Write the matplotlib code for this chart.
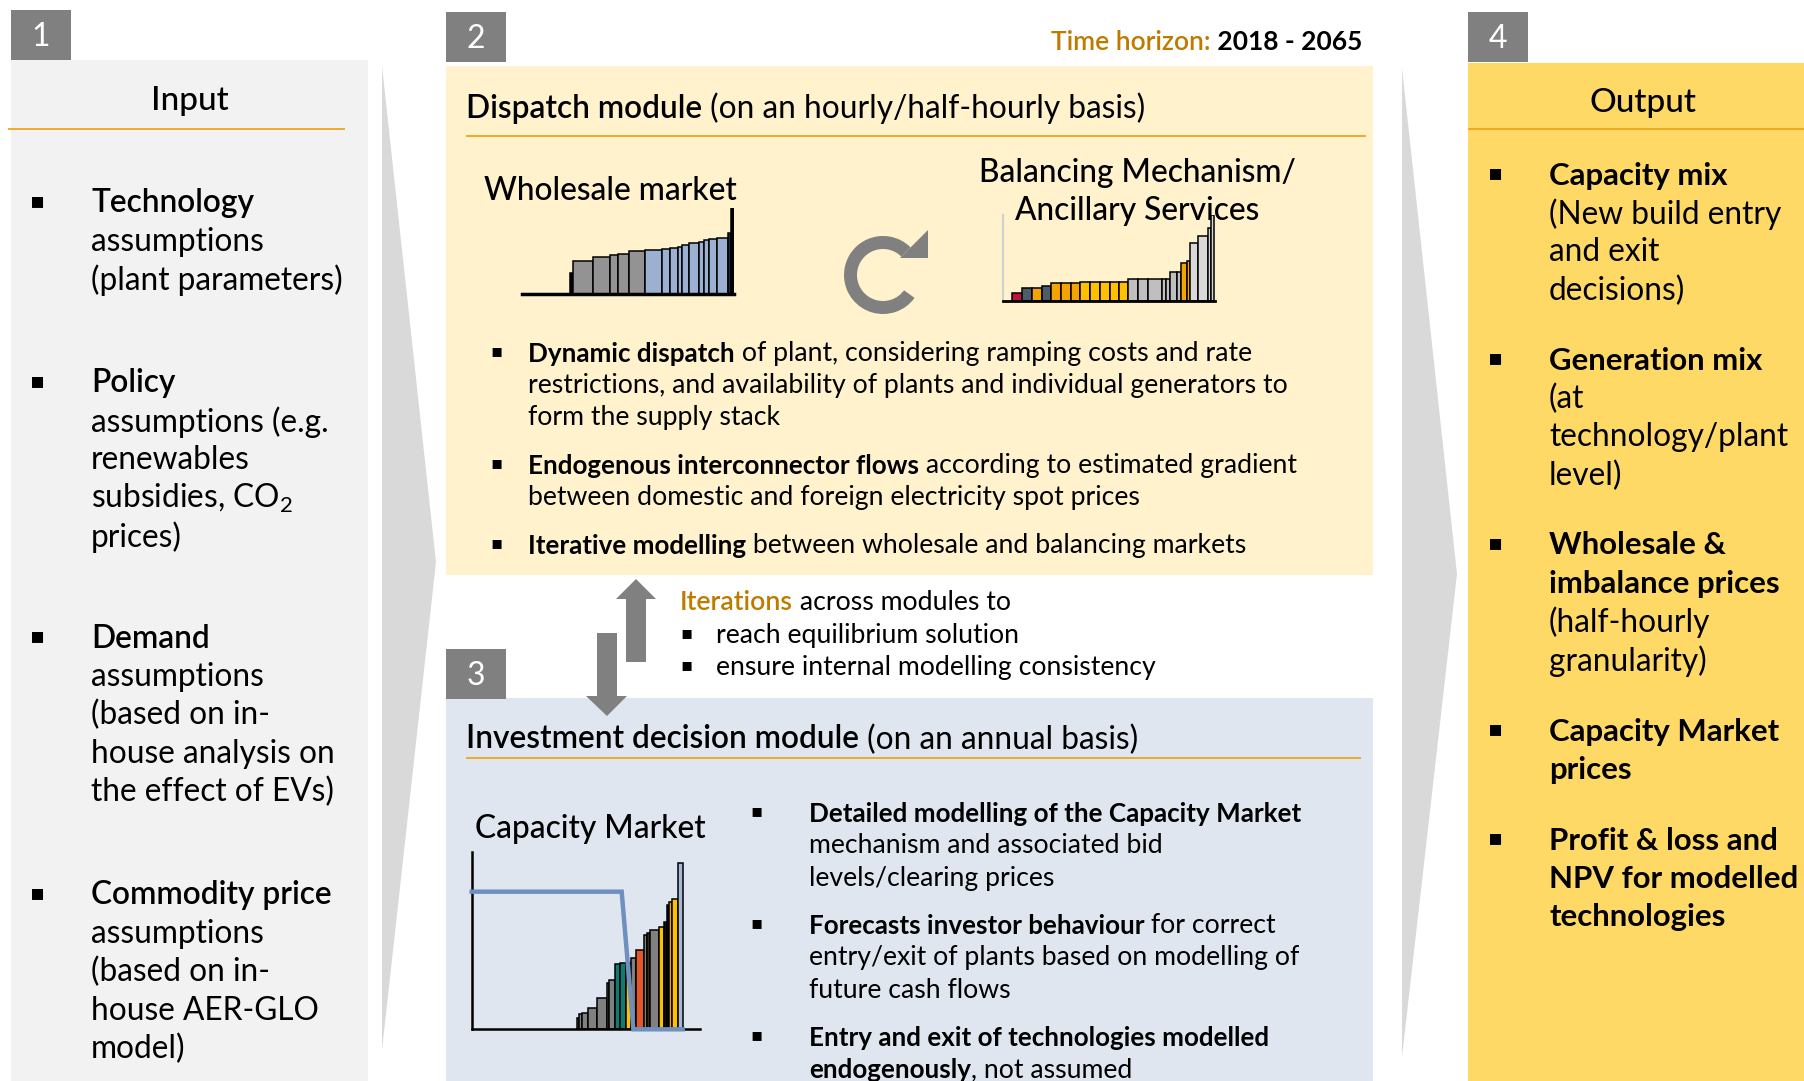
"""
Power market model overview: inputs -> dispatch / investment modules -> outputs.
Drawn on a single pixel-space canvas with three small merit-order inset charts.
"""

import matplotlib
matplotlib.use("Agg")
import matplotlib.pyplot as plt
from matplotlib.patches import Polygon, Rectangle, Wedge

W, H = 1804, 1081

# ---- text content ---------------------------------------------------------
INPUT_ITEMS = [
    ("Technology", ["assumptions", "(plant parameters)"]),
    ("Policy", ["assumptions (e.g.", "renewables", "subsidies, CO$_2$", "prices)"]),
    ("Demand", ["assumptions", "(based on in-", "house analysis on", "the effect of EVs)"]),
    ("Commodity price", ["assumptions", "(based on in-", "house AER-GLO", "model)"]),
]
INPUT_HEAD_Y = [201, 381, 636, 893]

OUTPUT_ITEMS = [
    (["Capacity mix"], ["(New build entry", "and exit", "decisions)"]),
    (["Generation mix"], ["(at", "technology/plant", "level)"]),
    (["Wholesale &", "imbalance prices"], ["(half-hourly", "granularity)"]),
    (["Capacity Market", "prices"], []),
    (["Profit & loss and", "NPV for modelled", "technologies"], []),
]
OUTPUT_HEAD_Y = [173, 358, 543, 729, 838]

DISPATCH_BULLETS = [
    [[("Dynamic dispatch", "bold"), (" of plant, considering ramping costs and rate", "normal")],
     [("restrictions, and availability of plants and individual generators to", "normal")],
     [("form the supply stack", "normal")]],
    [[("Endogenous interconnector flows", "bold"), (" according to estimated gradient", "normal")],
     [("between domestic and foreign electricity spot prices", "normal")]],
    [[("Iterative modelling", "bold"), (" between wholesale and balancing markets", "normal")]],
]
DISPATCH_Y = [351, 463, 543]

INVEST_BULLETS = [
    [[("Detailed modelling of the Capacity Market", "bold")],
     [("mechanism and associated bid", "normal")],
     [("levels/clearing prices", "normal")]],
    [[("Forecasts investor behaviour", "bold"), (" for correct", "normal")],
     [("entry/exit of plants based on modelling of", "normal")],
     [("future cash flows", "normal")]],
    [[("Entry and exit of technologies modelled", "bold")],
     [("endogenously", "bold"), (", not assumed", "normal")]],
]
INVEST_Y = [811, 923, 1035]

ITERATION_POINTS = ["reach equilibrium solution", "ensure internal modelling consistency"]

# ---- mini chart data (merit-order stacks) -----------------------------------
WS_WIDTHS = [10, 60, 50, 23, 35, 47, 50, 25, 23, 12, 22, 31, 14, 14, 26, 33, 7, 10]
WS_PRICES = [63, 100, 113, 117, 120, 130, 132, 135, 138, 143, 147, 154, 156, 162, 165, 170, 183, 258]
WS_COLORS = ["#000000"] + ["#939393"] * 5 + ["#9CB1D2"] * 10 + ["#1E2A38", "#000000"]

BM_WIDTHS = [30, 30, 30, 28, 30, 30, 27, 30, 30, 30, 28, 27, 30, 30, 40, 13, 12, 20, 13, 19, 8, 25, 28, 9, 10]
BM_PRICES = [22, 37, 39, 44, 52, 52, 52, 57, 57, 57, 57, 57, 64, 64, 64, 64, 64, 87, 87, 112, 120, 172, 194, 217, 257]
BM_COLORS = (["#C0143C", "#4E5B6B", "#F5A300", "#4E5B6B"] + ["#F5A300"] * 3 + ["#FFC000"] * 5
             + ["#BFBFBF"] * 7 + ["#F5A300"] * 2 + ["#D9D9D9"] * 4)

CM_WIDTHS = [7, 8, 20, 27, 28, 7, 18, 15, 17, 15, 15, 25, 10, 8, 27, 15, 8, 7, 10, 18, 15]
CM_PRICES = [35, 46, 50, 63, 93, 138, 148, 195, 200, 200, 213, 238, 283, 290, 298, 308, 322, 372, 383, 391, 500]
CM_COLORS = (["#808080"] * 7 + ["#0F7B73", "#0F7B73", "#FFC000", "#808080", "#E0582A", "#808080",
             "#3A2A10", "#808080", "#FFC000", "#111111", "#111111", "#F5A300", "#FFC000", "#A6BAD8"])
CM_DEMAND_X = [35, 485, 520, 668]
CM_DEMAND_Y = [413, 413, 0, 0]

# ---- style ------------------------------------------------------------------
plt.rcParams["font.family"] = ["Lato", "DejaVu Sans"]
plt.rcParams["mathtext.fontset"] = "custom"
plt.rcParams["mathtext.rm"] = "Lato"

GREY_BOX = "#808080"
ORANGE = "#F2A31B"
GOLD = "#BF7A00"
YOFF = 2.5          # matplotlib centres on the full bbox, reference centres a bit lower
SIDE_FS = 22.8      # input / output columns
BODY_FS = 19.2      # bullet text in the module panels
BODY_BOLD_FS = 18.7 # the reference uses a tighter bold face; shrink a touch to match widths
HEAD_FS = 22.8      # module headings and mini-chart titles

fig = plt.figure(figsize=(W / 100, H / 100), dpi=100)
ax = fig.add_axes([0, 0, 1, 1])
ax.set_xlim(0, W)
ax.set_ylim(H, 0)
ax.axis("off")
renderer = fig.canvas.get_renderer()


def txt(x, y, s, size, weight="normal", color="black", ha="left"):
    return ax.text(x, y + YOFF, s, fontsize=size, fontweight=weight, color=color,
                   ha=ha, va="center", zorder=6)


def rect(x0, y0, x1, y1, color, z=1):
    ax.add_patch(Rectangle((x0, y0), x1 - x0, y1 - y0, facecolor=color, edgecolor="none", zorder=z))


def hline(x0, x1, y, color=ORANGE, lw=1.3):
    ax.plot([x0, x1], [y, y], color=color, lw=lw, zorder=3, solid_capstyle="butt")


def num_box(x0, y0, label):
    rect(x0, y0, x0 + 60, y0 + 50, GREY_BOX, z=4)
    ax.text(x0 + 30, y0 + 27, label, color="white", fontsize=23, ha="center", va="center", zorder=5)


def draw_runs(x, y, runs, size, ha="left", bold_size=None):
    """Draw consecutive text runs with mixed weight/colour on one line."""
    items = []
    cx = x
    for part in runs:
        s, weight = part[0], part[1]
        color = part[2] if len(part) > 2 else "black"
        fs = bold_size if (bold_size and weight == "bold") else size
        t = txt(cx, y, s, fs, weight, color)
        cx += t.get_window_extent(renderer).width
        items.append(t)
    if ha == "right":
        shift = cx - x
        for t in items:
            t.set_x(t.get_position()[0] - shift)
    return cx


def bullet(x, y, size):
    ax.text(x, y, "\u25aa", fontsize=size, ha="center", va="center", zorder=6,
            family=["DejaVu Sans"])


def chevron(x0, x1, top, tip, bottom):
    ax.add_patch(Polygon([(x0, top), (x1, tip), (x0, bottom)], closed=True,
                         facecolor="#D9D9D9", edgecolor="none", zorder=1))


def px_axes(x0, y0, x1, y1):
    a = fig.add_axes([x0 / W, 1 - y1 / H, (x1 - x0) / W, (y1 - y0) / H])
    a.set_facecolor("none")
    a.set_xticks([])
    a.set_yticks([])
    for s in ("top", "right", "left", "bottom"):
        a.spines[s].set_visible(False)
    return a


def stack(a, start, widths, prices, colors):
    lefts = [start]
    for w in widths[:-1]:
        lefts.append(lefts[-1] + w)
    a.bar(lefts, prices, width=widths, align="edge", color=colors, edgecolor="black", linewidth=1.1)


# ---- panel backgrounds --------------------------------------------------------
rect(11, 60, 368, H, "#F2F2F2")
rect(446, 66, 1373, 575, "#FFF2CC")
rect(446, 698, 1373, H, "#DFE6F0")
rect(1468, 63, W, H, "#FFD966")
chevron(382, 436, 66, 562, 1050)
chevron(1402, 1457, 68, 574, 1057)

num_box(11, 10, "1")
num_box(446, 12, "2")
num_box(446, 649, "3")
num_box(1468, 12, "4")

# ---- panel 1: input -------------------------------------------------------------
txt(190, 99, "Input", 24, "medium", ha="center")
hline(8, 345, 129)
for (head, lines), hy in zip(INPUT_ITEMS, INPUT_HEAD_Y):
    bullet(38, hy, 16)
    txt(91, hy, head, SIDE_FS, "semibold")
    for i, line in enumerate(lines):
        txt(91, hy + 38.4 * (i + 1), line, SIDE_FS)

# ---- panel 2: dispatch ------------------------------------------------------------
draw_runs(1362, 40, [("Time horizon:", "semibold", GOLD), (" 2018 - 2065", "bold")], 19, ha="right")
draw_runs(466, 106, [("Dispatch module", "semibold"), (" (on an hourly/half-hourly basis)", "normal")], HEAD_FS)
hline(466, 1366, 136)
txt(610, 189, "Wholesale market", HEAD_FS, "medium", ha="center")
txt(1137, 170, "Balancing Mechanism/", HEAD_FS, "medium", ha="center")
txt(1137, 208, "Ancillary Services", HEAD_FS, "medium", ha="center")

# circular iteration arrow
ax.add_patch(Wedge((883, 275), 39, 36, 315, width=13, facecolor=GREY_BOX, edgecolor="none", zorder=4))
ax.add_patch(Polygon([(900, 258), (928, 230), (928, 258)], closed=True,
                     facecolor=GREY_BOX, edgecolor="none", zorder=4))

for block, y0 in zip(DISPATCH_BULLETS, DISPATCH_Y):
    bullet(497, y0, 13)
    for i, runs in enumerate(block):
        draw_runs(528, y0 + 32.2 * i, runs, BODY_FS, bold_size=BODY_BOLD_FS)

# ---- iteration arrows & note ------------------------------------------------------------
ax.add_patch(Polygon([(626, 662), (626, 599), (616, 599), (636, 579), (656, 599), (646, 599), (646, 662)],
                     closed=True, facecolor=GREY_BOX, edgecolor="none", zorder=4))
ax.add_patch(Polygon([(597, 633), (617, 633), (617, 696), (627, 696), (607, 716), (586, 696), (597, 696)],
                     closed=True, facecolor=GREY_BOX, edgecolor="none", zorder=4))
draw_runs(680, 600, [("Iterations", "semibold", GOLD), (" across modules to", "normal")], BODY_FS)
for i, s in enumerate(ITERATION_POINTS):
    bullet(687, 633 + 32 * i, 13)
    txt(716, 633 + 32 * i, s, BODY_FS)

# ---- panel 3: investment -------------------------------------------------------------
draw_runs(466, 737, [("Investment decision module", "semibold"), (" (on an annual basis)", "normal")], HEAD_FS)
hline(466, 1361, 758)
txt(590, 826, "Capacity Market", HEAD_FS, "medium", ha="center")
for block, y0 in zip(INVEST_BULLETS, INVEST_Y):
    bullet(756, y0, 13)
    for i, runs in enumerate(block):
        draw_runs(809, y0 + 32.4 * i, runs, BODY_FS, bold_size=BODY_BOLD_FS)

# ---- panel 4: output -------------------------------------------------------------------
txt(1643, 101, "Output", 24, "medium", ha="center")
hline(1468, W, 129)
for (heads, lines), hy in zip(OUTPUT_ITEMS, OUTPUT_HEAD_Y):
    bullet(1496, hy, 16)
    row = 0
    for h in heads:
        txt(1549, hy + 38.4 * row, h, 22.4, "bold")
        row += 1
    for line in lines:
        txt(1549, hy + 38.4 * row, line, SIDE_FS)
        row += 1

# ---- mini charts ------------------------------------------------------------------------
ws = px_axes(521.7, 207.7, 734, 294.3)
stack(ws, 180, WS_WIDTHS, WS_PRICES, WS_COLORS)
ws.set_xlim(35, 672)
ws.set_ylim(0, 260)
ws.spines["bottom"].set_visible(True)
ws.spines["bottom"].set_linewidth(2.5)

bm = px_axes(1003.3, 215, 1215, 300.7)
stack(bm, 65, BM_WIDTHS, BM_PRICES, BM_COLORS)
bm.set_xlim(40, 675)
bm.set_ylim(0, 257)
bm.spines["bottom"].set_visible(True)
bm.spines["bottom"].set_linewidth(2)
bm.spines["left"].set_visible(True)
bm.spines["left"].set_color("#D0D0D0")
bm.spines["left"].set_linewidth(1.5)

cm = px_axes(471.7, 851.7, 700, 1029.3)
stack(cm, 350, CM_WIDTHS, CM_PRICES, CM_COLORS)
cm.plot(CM_DEMAND_X, CM_DEMAND_Y, color="#6F8FBF", lw=3.2, solid_joinstyle="miter", clip_on=False, zorder=5)
cm.set_xlim(35, 720)
cm.set_ylim(0, 533)
for s in ("bottom", "left"):
    cm.spines[s].set_visible(True)
    cm.spines[s].set_linewidth(1.8)

fig.savefig("out.png", dpi=100)
